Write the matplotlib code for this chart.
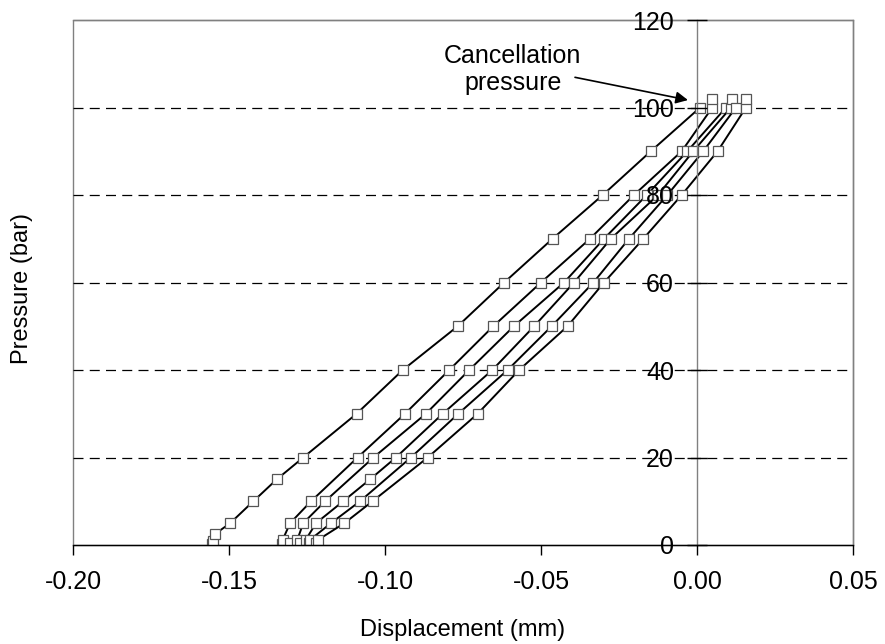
import matplotlib
matplotlib.use("Agg")
import matplotlib.pyplot as plt
from matplotlib.patches import Rectangle

plt.rcParams['font.family'] = ['Liberation Sans', 'DejaVu Sans']

# Pressure levels (bar) and displacement (mm) for each test run
p_a = [0.3, 1.0, 2.5, 5, 10, 15, 20, 30, 40, 50, 60, 70, 80, 90, 100]
x_a = [-0.1553, -0.1552, -0.1545, -0.1496, -0.1422, -0.1347, -0.1262, -0.1091,
       -0.0943, -0.0767, -0.0618, -0.0463, -0.0302, -0.0148, 0.0010]

p_b = [0.3, 1.2, 5, 10, 20, 30, 40, 50, 60, 70, 80, 90, 100, 102]
x_b = [-0.1330, -0.1328, -0.1304, -0.1237, -0.1088, -0.0936, -0.0794, -0.0653,
       -0.0500, -0.0343, -0.0202, -0.0049, 0.0049, 0.0049]

p_c = [0.5, 1.2, 5, 10, 20, 30, 40, 50, 60, 70, 80, 90, 100]
x_c = [-0.1304, -0.1281, -0.1262, -0.1192, -0.1037, -0.0869, -0.0730, -0.0587,
       -0.0426, -0.0298, -0.0161, -0.0031, 0.0093]

p_d = [0.5, 1.2, 5, 10, 15, 20, 30, 40, 50, 60, 70, 80, 90, 100, 102]
x_d = [-0.1271, -0.1254, -0.1221, -0.1134, -0.1048, -0.0965, -0.0815, -0.0656,
       -0.0522, -0.0394, -0.0276, -0.0125, -0.0012, 0.0109, 0.0111]

p_e = [0.5, 1.2, 5, 10, 20, 30, 40, 50, 60, 70, 80, 90, 100]
x_e = [-0.1242, -0.1240, -0.1173, -0.1080, -0.0917, -0.0765, -0.0607, -0.0466,
       -0.0332, -0.0218, -0.0095, 0.0020, 0.0125]

p_f = [0.5, 1.2, 5, 10, 20, 30, 40, 50, 60, 70, 80, 90, 100, 102]
x_f = [-0.1220, -0.1214, -0.1130, -0.1040, -0.0863, -0.0703, -0.0570, -0.0415,
       -0.0298, -0.0172, -0.0049, 0.0066, 0.0157, 0.0157]

series = [(x_a, p_a), (x_b, p_b), (x_c, p_c), (x_d, p_d), (x_e, p_e), (x_f, p_f)]

x_ticks = [-0.20, -0.15, -0.10, -0.05, 0.00, 0.05]
y_ticks = [0, 20, 40, 60, 80, 100, 120]

fig = plt.figure(figsize=(8.85, 6.44), dpi=100)
ax = fig.add_axes([73/885, 1-545/644, (853-73)/885, (545-20)/644])

ax.set_xlim(-0.20, 0.05)
ax.set_ylim(0, 120)
ax.set_axisbelow(False)

# grid lines
for yv in y_ticks[1:-1]:
    ax.axhline(yv, color='black', lw=0.9, dashes=(8, 5), zorder=1)

for xs, ps in series:
    ax.plot(xs, ps, color='black', lw=1.4, marker='s', markersize=6.8,
            markerfacecolor='white', markeredgecolor='#555555',
            markeredgewidth=0.9, zorder=2)

# frame
for s in ['top', 'right']:
    ax.spines[s].set_color('#808080')
    ax.spines[s].set_linewidth(1.0)
ax.spines['left'].set_position(('data', 0))
ax.spines['left'].set_color('#808080')
ax.spines['left'].set_linewidth(1.0)
ax.spines['bottom'].set_color('black')
ax.spines['bottom'].set_linewidth(1.0)
ax.add_patch(Rectangle((0, 0), 1, 1, transform=ax.transAxes, fill=False,
                       edgecolor='#808080', lw=1.0, zorder=0, clip_on=False))

ax.set_xticks(x_ticks)
ax.set_xticklabels([f"{v:.2f}" for v in x_ticks])
ax.set_yticks(y_ticks)
ax.set_yticklabels([str(v) for v in y_ticks])
ax.tick_params(axis='x', direction='out', length=7, width=1, colors='black',
               labelsize=18, pad=11)
ax.tick_params(axis='y', direction='inout', length=14, width=1, color='black',
               labelsize=18, pad=9.5)

fig.text(463/885, 1-630/644, 'Displacement (mm)', ha='center', va='center', fontsize=17)
fig.text(22/885, 1-288/644, 'Pressure (bar)', ha='center', va='center',
         rotation=90, fontsize=17)

ax.text(-0.0590, 104.0, 'Cancellation\npressure', ha='center', va='baseline',
        fontsize=18, linespacing=1.15)
ax.annotate('', xy=(-0.0029, 101.7), xytext=(-0.0391, 106.9),
            arrowprops=dict(arrowstyle='-|>', color='black', lw=1.2,
                            mutation_scale=18, shrinkA=0, shrinkB=0))

fig.savefig('out.png', dpi=100)
